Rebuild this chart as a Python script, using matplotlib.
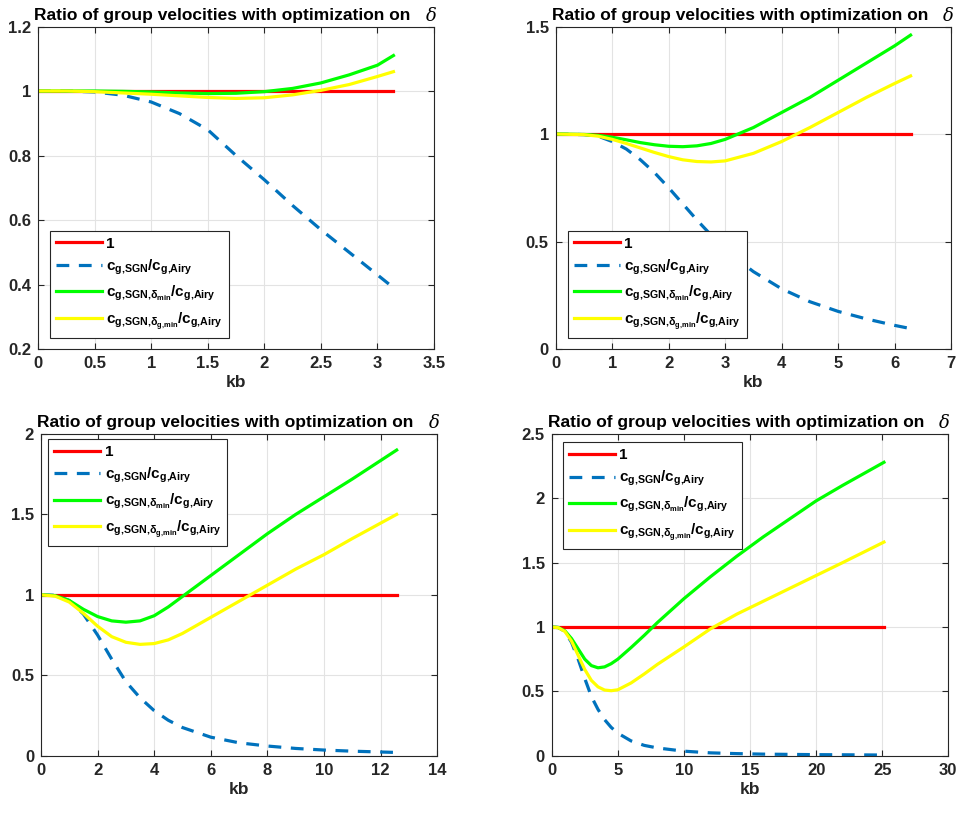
import matplotlib
matplotlib.use('Agg')
import matplotlib.pyplot as plt

plt.rcParams['font.family'] = ['Liberation Sans', 'DejaVu Sans']
plt.rcParams['font.weight'] = 'bold'
plt.rcParams['mathtext.fontset'] = 'custom'
plt.rcParams['mathtext.rm'] = 'Liberation Sans:bold'
plt.rcParams['mathtext.bf'] = 'Liberation Sans:bold'
plt.rcParams['mathtext.it'] = 'Liberation Sans:bold:italic'

# panel 1 : kb in [0, pi]
x1 = [0, 0.25, 0.5, 0.75, 1.0, 1.25, 1.5, 1.75, 2.0, 2.25, 2.5, 2.75, 3.0, 3.1416]
sgn1 = [1.0, 1.0, 0.997, 0.987, 0.966, 0.93, 0.88, 0.80, 0.725, 0.645, 0.57, 0.50, 0.43, 0.39]
dmin1 = [1.0, 1.0, 1.0, 0.999, 0.997, 0.994, 0.992, 0.993, 0.998, 1.008, 1.025, 1.05, 1.08, 1.11]
dgmin1 = [1.0, 1.0, 0.998, 0.994, 0.99, 0.985, 0.98, 0.977, 0.979, 0.988, 1.002, 1.02, 1.045, 1.06]

# panel 2 : kb in [0, 2 pi]
x2 = [0, 0.5, 0.75, 1.0, 1.25, 1.5, 1.75, 2.0, 2.25, 2.5, 2.75, 3.0, 3.5, 4.0, 4.5, 5.0, 5.5, 6.0, 6.2832]
sgn2 = [1.0, 0.997, 0.99, 0.965, 0.93, 0.88, 0.82, 0.75, 0.675, 0.60, 0.53, 0.46, 0.36, 0.28, 0.22, 0.175, 0.14, 0.11, 0.095]
dmin2 = [1.0, 0.998, 0.994, 0.985, 0.973, 0.96, 0.95, 0.943, 0.941, 0.945, 0.956, 0.975, 1.03, 1.10, 1.17, 1.25, 1.33, 1.41, 1.46]
dgmin2 = [1.0, 0.997, 0.99, 0.975, 0.956, 0.935, 0.914, 0.895, 0.88, 0.872, 0.87, 0.875, 0.91, 0.965, 1.03, 1.10, 1.17, 1.235, 1.27]

# panel 3 : kb in [0, 4 pi]
x3 = [0, 0.5, 1.0, 1.5, 2.0, 2.5, 3.0, 3.5, 4.0, 4.5, 5.0, 6.0, 7.0, 8.0, 9.0, 10.0, 11.0, 12.566]
sgn3 = [1.0, 0.997, 0.965, 0.88, 0.75, 0.60, 0.46, 0.36, 0.28, 0.22, 0.175, 0.115, 0.08, 0.06, 0.045, 0.035, 0.028, 0.02]
dmin3 = [1.0, 0.995, 0.965, 0.91, 0.865, 0.838, 0.83, 0.838, 0.87, 0.925, 0.99, 1.12, 1.25, 1.38, 1.50, 1.61, 1.72, 1.90]
dgmin3 = [1.0, 0.992, 0.955, 0.885, 0.805, 0.74, 0.705, 0.692, 0.697, 0.72, 0.76, 0.86, 0.96, 1.06, 1.16, 1.25, 1.35, 1.50]

# panel 4 : kb in [0, 8 pi]
x4 = [0, 0.5, 1.0, 1.5, 2.0, 2.5, 3.0, 3.5, 4.0, 4.5, 5.0, 6.0, 7.0, 8.0, 10.0, 12.0, 14.0, 16.0, 18.0, 20.0, 22.0, 25.133]
sgn4 = [1.0, 0.997, 0.965, 0.88, 0.75, 0.60, 0.46, 0.36, 0.28, 0.22, 0.175, 0.115, 0.08, 0.06, 0.035, 0.022, 0.016, 0.012, 0.01, 0.008, 0.007, 0.005]
dmin4 = [1.0, 0.995, 0.97, 0.91, 0.83, 0.75, 0.70, 0.683, 0.69, 0.715, 0.75, 0.84, 0.935, 1.035, 1.22, 1.39, 1.55, 1.70, 1.84, 1.98, 2.10, 2.28]
dgmin4 = [1.0, 0.995, 0.965, 0.89, 0.78, 0.67, 0.585, 0.535, 0.51, 0.505, 0.512, 0.565, 0.635, 0.71, 0.845, 0.985, 1.10, 1.20, 1.30, 1.40, 1.50, 1.66]

labels = ['1',
          r'$\mathbf{c_{g{,}SGN}/c_{g{,}Airy}}$',
          r'$\mathbf{c_{g{,}SGN{,}\delta_{min}}/c_{g{,}Airy}}$',
          r'$\mathbf{c_{g{,}SGN{,}\delta_{g{,}min}}/c_{g{,}Airy}}$']

panels = [
    (x1, sgn1, dmin1, dgmin1, [0, 3.5], [0.2, 1.2],
     [0, 0.5, 1, 1.5, 2, 2.5, 3, 3.5], [0.2, 0.4, 0.6, 0.8, 1, 1.2]),
    (x2, sgn2, dmin2, dgmin2, [0, 7], [0, 1.5],
     [0, 1, 2, 3, 4, 5, 6, 7], [0, 0.5, 1, 1.5]),
    (x3, sgn3, dmin3, dgmin3, [0, 14], [0, 2],
     [0, 2, 4, 6, 8, 10, 12, 14], [0, 0.5, 1, 1.5, 2]),
    (x4, sgn4, dmin4, dgmin4, [0, 30], [0, 2.5],
     [0, 5, 10, 15, 20, 25, 30], [0, 0.5, 1, 1.5, 2, 2.5]),
]

rects = [[0.0397, 0.5707, 0.4138, 0.3967],
         [0.5807, 0.5707, 0.4131, 0.3967],
         [0.0428, 0.0705, 0.4141, 0.3957],
         [0.5765, 0.0705, 0.4144, 0.3957]]

leg_pos = [('lower left', (0.03, 0.035)),
           ('lower left', (0.03, 0.035)),
           ('upper left', (0.018, 0.985)),
           ('upper left', (0.028, 0.975))]

fig = plt.figure(figsize=(9.57, 8.13), dpi=100)

for i, (x, sgn, dmin, dgmin, xl, yl, xt, yt) in enumerate(panels):
    ax = fig.add_axes(rects[i])
    ax.plot(x, [1] * len(x), color='#ff0000', lw=2.3, label=labels[0])
    ax.plot(x, sgn, color='#0072bd', lw=2.3, ls=(0, (4, 3)), label=labels[1])
    ax.plot(x, dmin, color='#00ff00', lw=2.3, label=labels[2])
    ax.plot(x, dgmin, color='#ffff00', lw=2.3, label=labels[3])
    ax.set_xlim(xl)
    ax.set_ylim(yl)
    ax.set_xticks(xt)
    ax.set_yticks(yt)
    ax.set_xticklabels(['%g' % v for v in xt])
    ax.set_yticklabels(['%g' % v for v in yt])
    ax.grid(True, color='#e3e3e3', lw=0.8)
    ax.set_axisbelow(True)
    ax.tick_params(direction='in', top=True, right=True, labelsize=12,
                   colors='#262626', length=4, width=0.8, pad=5)
    for s in ax.spines.values():
        s.set_color('#262626')
        s.set_linewidth(0.8)
    ax.set_xlabel('kb', fontsize=12.5, fontweight='bold', color='#262626', labelpad=3)
    # title text, then a serif italic delta just after it
    t = ax.text(-0.01, 1.012, 'Ratio of group velocities with optimization on',
                transform=ax.transAxes, fontsize=12.5, fontweight='bold',
                ha='left', va='bottom')
    ax.annotate('δ', xy=(1, 0), xycoords=t, xytext=(11, -1.5),
                textcoords='offset points', fontsize=13, family='DejaVu Serif',
                style='italic', fontweight='normal', ha='left', va='bottom')
    loc, anchor = leg_pos[i]
    leg = ax.legend(loc=loc, bbox_to_anchor=anchor, fontsize=11, fancybox=False,
                    edgecolor='#262626', framealpha=1, handlelength=3.0,
                    handletextpad=0.3, labelspacing=0.45, borderpad=0.4,
                    borderaxespad=0)
    leg.get_frame().set_linewidth(0.8)

fig.savefig('out.png', dpi=100)
